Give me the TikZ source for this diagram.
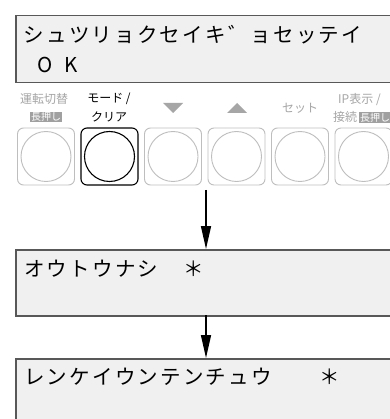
\documentclass[tikz,border=0pt]{standalone}
\usepackage{fontspec}
\setmainfont{Noto Sans CJK JP}
\usetikzlibrary{arrows.meta}
\definecolor{lcdfill}{HTML}{F0F0F0}
\definecolor{lcdline}{HTML}{585858}
\definecolor{lbl}{HTML}{A6A6A6}
\definecolor{btnline}{HTML}{BEBEBE}
\definecolor{tagfill}{HTML}{A0A0A0}
\newlength\cellw \setlength\cellw{22.7pt}
\newcommand\dc[1]{\makebox[\cellw][c]{#1}}
\newcommand\tagb[1]{{\setlength\fboxsep{0.8pt}\colorbox{tagfill}{\textcolor{white}{#1}}}}
\tikzset{
  lcd/.style={draw=lcdline, fill=lcdfill, line width=1.5pt, rectangle, anchor=north west, minimum width=400pt, inner sep=0pt},
  lcdtext/.style={anchor=base west, inner sep=0pt, font=\fontsize{20.5}{20.5}\selectfont},
  btn/.style={draw=btnline, line width=0.9pt, rectangle, rounded corners=6pt, minimum width=57pt, minimum height=57pt, inner sep=0pt},
  btnon/.style={btn, draw=black, line width=1.1pt},
  knob/.style={draw=btnline, line width=0.9pt, circle, minimum size=50pt, inner sep=0pt},
  knobon/.style={knob, draw=black, line width=1.1pt},
  lab/.style={text=lbl, inner sep=0pt, font=\fontsize{12}{12}\selectfont},
  labon/.style={lab, text=black},
  flow/.style={line width=1.5pt, -{Triangle[length=23pt,width=10pt]}}
}
\begin{document}
\begin{tikzpicture}[x=1pt,y=-1pt]
\useasboundingbox (0,0) rectangle (389,419);
\fill[white] (0,0) rectangle (389,419);
% LCD 1
\node[lcd, minimum height=67pt] (lcd1) at (15,15) {};
\node[lcdtext] (t1a) at (22.5,43) {\dc{シ}\dc{ュ}\dc{ツ}\dc{リ}\dc{ョ}\dc{ク}\dc{セ}\dc{イ}\dc{キ}\dc{゛}\dc{ョ}\dc{セ}\dc{ッ}\dc{テ}\dc{イ}};
\node[lcdtext, anchor=base] (t1o) at (45.5,73) {O};
\node[lcdtext, anchor=base] (t1k) at (71,73) {K};
% button labels
\node[lab] (l1a) at (44,99) {運転切替};
\node[lab, font=\fontsize{10}{10}\selectfont] (l1b) at (46,117) {\tagb{長押し}};
\node[labon] (l2a) at (109,99) {モード /};
\node[labon] (l2b) at (109,117) {クリア};
\fill[lbl] (163,103) -- (183,103) -- (173,113) -- cycle;
\fill[lbl] (227,113) -- (247,113) -- (237,103) -- cycle;
\node[lab] (l5) at (300,108) {セット};
\node[lab, anchor=west] (l6a) at (338,100) {IP表示 /};
\node[lab, anchor=west] (l6b) at (333,117) {接続\,{\fontsize{10}{10}\selectfont\tagb{長押し}}};
% buttons
\foreach \i/\x in {1/46,3/173,4/236.5,5/300,6/363.5}{
  \node[btn] (b\i) at (\x,156.5) {};
  \node[knob] (k\i) at (b\i) {};
}
\node[btnon] (b2) at (109.5,156.5) {};
\node[knobon] (k2) at (b2) {};
% LCD 2 and 3
\node[lcd, minimum height=66pt] (lcd2) at (15,249) {};
\node[lcdtext] (t2) at (23,276) {\dc{オ}\dc{ウ}\dc{ト}\dc{ウ}\dc{ナ}\dc{シ}\dc{　}\dc{＊}};
\node[lcd, minimum height=80pt] (lcd3) at (15,358) {};
\node[lcdtext] (t3) at (23,384) {\dc{レ}\dc{ン}\dc{ケ}\dc{イ}\dc{ウ}\dc{ン}\dc{テ}\dc{ン}\dc{チ}\dc{ュ}\dc{ウ}\dc{　}\dc{　}\dc{＊}};
% arrows
\coordinate (a1) at (206,190);
\coordinate (a2) at (206,315);
\draw[flow] (a1) -- (a1 |- lcd2.north);
\draw[flow] (a2) -- (a2 |- lcd3.north);
\end{tikzpicture}
\end{document}
